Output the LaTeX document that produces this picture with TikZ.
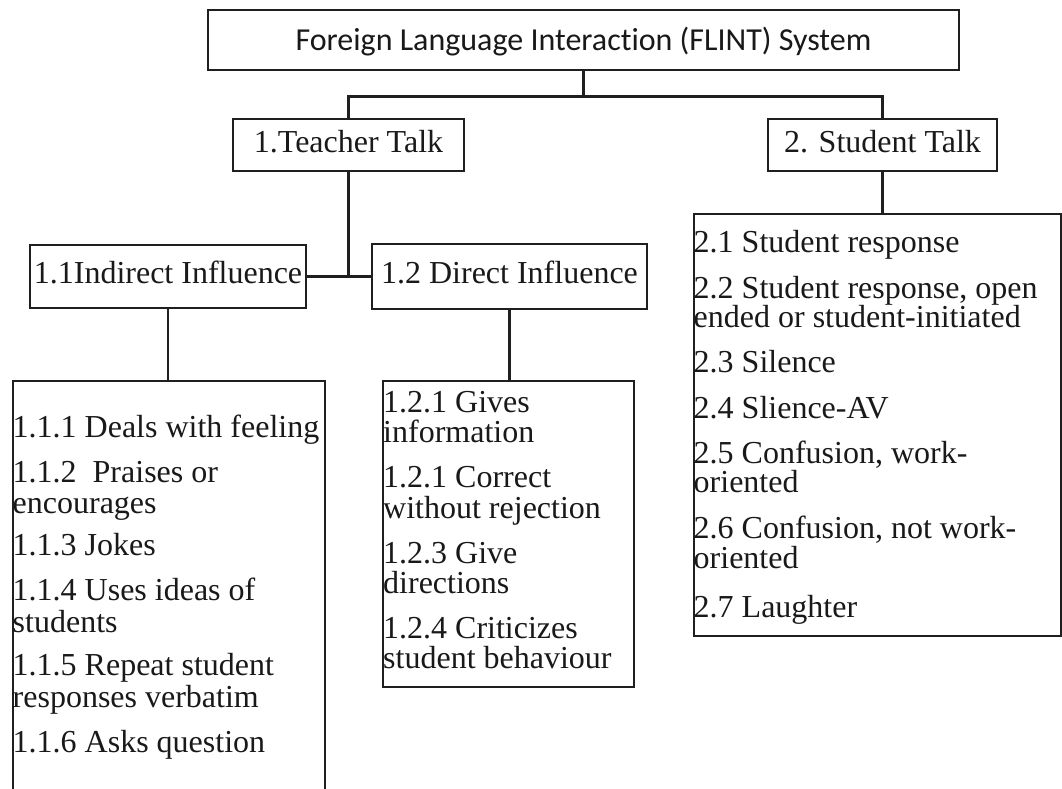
\documentclass[tikz,border=0pt]{standalone}
\usepackage{fontspec}
\setmainfont{Liberation Serif}
\newfontfamily\calibrifont[Ligatures=NoCommon]{Carlito}
\tikzset{
  box/.style={draw=black!88, line width=2.2pt, inner sep=0pt, font=\fontsize{32}{32}\selectfont, text=black!90, text height=22pt, text depth=8pt},
  topbox/.style={box, font=\calibrifont\fontsize{32}{32}\selectfont, text height=23pt, text depth=2pt},
  listbox/.style={draw=black!88, line width=2.2pt, inner sep=0pt},
  conn/.style={draw=black!88, line width=2.2pt},
  item/.style={anchor=base west, inner sep=0pt, font=\fontsize{32}{32}\selectfont, text=black!90},
}
\begin{document}
\begin{tikzpicture}[x=1pt,y=-1pt]
\useasboundingbox[fill=white] (0,0) rectangle (1062,789);

% main boxes
\node[topbox, minimum width=751pt, minimum height=60pt] (top) at (583.5,40) {Foreign Language Interaction (FLINT) System};
\node[box, minimum width=231pt, minimum height=52pt] (teacher) at (348.5,145) {1.Teacher Talk};
\node[box, minimum width=229pt, minimum height=52pt] (student) at (882.5,145) {2. Student Talk};
\node[box, minimum width=276pt, minimum height=63pt] (indirect) at (168,276.5) {1.1Indirect Influence};
\node[box, minimum width=275pt, minimum height=65pt] (direct) at (509.5,276.5) {1.2 Direct Influence};

% list boxes
\node[listbox, minimum width=312pt, minimum height=429pt] (list1) at (169,595.5) {};
\node[listbox, minimum width=251pt, minimum height=306pt] (list2) at (508.5,534) {};
\node[listbox, minimum width=367pt, minimum height=422pt] (list3) at (877.5,425) {};

% connectors
\draw[conn] (top.south) -- ++(0,25.5) coordinate (j1);
\draw[conn] (teacher.north) |- (j1) -| (student.north);
\draw[conn] (teacher.south) -- (teacher.south |- indirect.east) coordinate (j2);
\draw[conn] (indirect.east) -- (direct.west);
\draw[conn] (indirect.south) -- (indirect.south |- list1.north);
\draw[conn] (direct.south) -- (direct.south |- list2.north);
\draw[conn] (student.south) -- (student.south |- list3.north);

% list 1 texts
\node[item] (a1)  at (12.5,437) {1.1.1 Deals with feeling};
\node[item] (a2)  at (12.5,482) {1.1.2~~Praises or};
\node[item] (a2b) at (12.5,513) {encourages};
\node[item] (a3)  at (12.5,555) {1.1.3 Jokes};
\node[item] (a4)  at (12.5,600) {1.1.4 Uses ideas of};
\node[item] (a4b) at (12.5,632) {students};
\node[item] (a5)  at (12.5,675) {1.1.5 Repeat student};
\node[item] (a5b) at (12.5,707) {responses verbatim};
\node[item] (a6)  at (12.5,752) {1.1.6 Asks question};

% list 2 texts
\node[item] (b1)  at (383,412) {1.2.1 Gives};
\node[item] (b1b) at (383,442) {information};
\node[item] (b2)  at (383,487) {1.2.1 Correct};
\node[item] (b2b) at (383,518) {without rejection};
\node[item] (b3)  at (383,563) {1.2.3 Give};
\node[item] (b3b) at (383,593) {directions};
\node[item] (b4)  at (383,638) {1.2.4 Criticizes};
\node[item] (b4b) at (383,668) {student behaviour};

% list 3 texts
\node[item] (c1)  at (693.5,252) {2.1 Student response};
\node[item] (c2)  at (693.5,298) {2.2 Student response, open};
\node[item] (c2b) at (693.5,327) {ended or student-initiated};
\node[item] (c3)  at (693.5,372) {2.3 Silence};
\node[item] (c4)  at (693.5,418) {2.4 Slience-AV};
\node[item] (c5)  at (693.5,463) {2.5 Confusion, work-};
\node[item] (c5b) at (693.5,492) {oriented};
\node[item] (c6)  at (693.5,538) {2.6 Confusion, not work-};
\node[item] (c6b) at (693.5,568) {oriented};
\node[item] (c7)  at (693.5,617) {2.7 Laughter};
\end{tikzpicture}
\end{document}
